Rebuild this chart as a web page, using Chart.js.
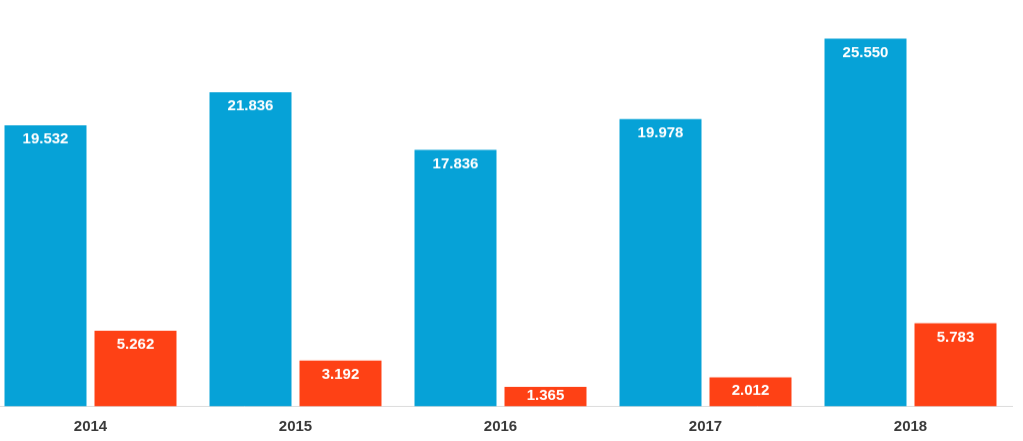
<!DOCTYPE html>
<html>
<head>
<meta charset="utf-8">
<script src="https://cdn.jsdelivr.net/npm/chart.js@4/dist/chart.umd.min.js"></script>
<style>
  html, body { margin: 0; padding: 0; background: #fff; overflow: hidden; width: 1023px; height: 441px; }
  #wrap { position: absolute; left: -12.5px; top: 0; width: 1025px; height: 452.5px; }
</style>
</head>
<body>
<div id="wrap"><canvas id="c"></canvas></div>
<script>
const categories = ["2014", "2015", "2016", "2017", "2018"];
const seriesBlue = [19.532, 21.836, 17.836, 19.978, 25.550];
const seriesRed = [5.262, 3.192, 1.365, 2.012, 5.783];

const valueLabels = {
  id: 'valueLabels',
  afterDatasetsDraw(chart) {
    const ctx = chart.ctx;
    ctx.save();
    ctx.font = 'bold 15px "Liberation Sans", Arial, sans-serif';
    ctx.fillStyle = '#ffffff';
    ctx.textAlign = 'center';
    ctx.textBaseline = 'middle';
    chart.data.datasets.forEach((ds, di) => {
      const meta = chart.getDatasetMeta(di);
      meta.data.forEach((bar, i) => {
        const h = bar.base - bar.y;
        const off = Math.min(14, h / 2 - 1);
        ctx.fillText(ds.data[i].toFixed(3), bar.x, bar.y + off);
      });
    });
    ctx.restore();
  }
};

new Chart(document.getElementById('c'), {
  type: 'bar',
  data: {
    labels: categories,
    datasets: [
      { data: seriesBlue, backgroundColor: '#06a2d7', categoryPercentage: 0.878, barPercentage: 0.911 },
      { data: seriesRed, backgroundColor: '#fe4115', categoryPercentage: 0.878, barPercentage: 0.911 }
    ]
  },
  options: {
    responsive: true,
    maintainAspectRatio: false,
    animation: false,
    layout: { padding: { top: 2, bottom: 7, left: 0, right: 0 } },
    plugins: { legend: { display: false }, tooltip: { enabled: false } },
    scales: {
      x: {
        grid: { display: true, drawOnChartArea: false, drawTicks: false, color: 'rgba(0,0,0,0)' },
        border: { display: true, color: '#dcdcdc', width: 1 },
        ticks: { color: '#3a3a3a', padding: 11, font: { family: '"Liberation Sans", Arial, sans-serif', size: 15, weight: 'bold' } }
      },
      y: { display: false, min: 0, max: 28.1 }
    }
  },
  plugins: [valueLabels]
});
</script>
</body>
</html>
